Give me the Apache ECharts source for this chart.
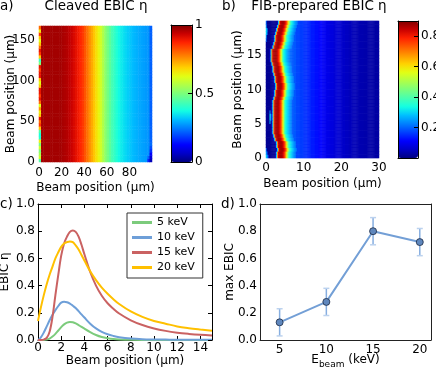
<!DOCTYPE html>
<html><head><meta charset="utf-8">
<script src="https://cdn.jsdelivr.net/npm/echarts@6/dist/echarts.min.js"></script>
<style>html,body{margin:0;padding:0;background:#fff}#c{width:436px;height:370px}</style>
</head><body><div id="c"></div>
<script>
const FONT = 'DejaVu Sans';

// ---------- Panel a: cleaved EBIC map (x: 0..100 µm in 2 µm columns, y: 0..167 µm in 42 rows)
const aColumns = 50;
const aRows = 42;
const aXMax = 100, aYMax = 167;
const aProfile = [0.97,0.97,0.97,0.97,0.97,0.97,0.97,0.97,0.97,0.97,
  0.965,0.96,0.955,0.945,0.935,0.92,0.905,0.89,0.87,0.85,
  0.82,0.79,0.76,0.73,0.70,0.67,0.64,0.60,0.56,0.52,
  0.49,0.46,0.43,0.41,0.39,0.37,0.355,0.345,0.335,0.325,
  0.318,0.31,0.303,0.297,0.29,0.285,0.28,0.275,0.27,0.22];
const aLeftEdge = [0.45,0.6,0.55,0.5,0.6,0.5,0.65,0.4,0.38,0.45,0.7,0.85,0.8,0.9,0.7,0.65,0.75,0.62,0.8,0.9,0.85,
  0.9,0.9,0.7,0.62,0.7,0.9,0.9,0.85,0.9,0.5,0.42,0.7,0.85,0.9,0.8,0.7,0.62,0.7,0.85,0.65,0.8];
const aCorner = [[99,2,0.05],[99,6,0.08],[99,10,0.12],[99,14,0.17],[99,18,0.2],[99,22,0.23],[97,2,0.16],[97,6,0.22]];

// ---------- Panel b: FIB-prepared EBIC map (x: 0..30 µm in 0.25 µm columns, y: 0..20 µm in 0.5 µm rows)
const bColumns = 120, bRows = 40, bXStep = 0.25, bYStep = 0.5;
const bXMax = 30, bYMax = 20;
const bRidgeCenter = [3.9,4.0,4.1,4.0,3.8,3.5,3.2,3.0,2.9,2.8,2.8,2.8,2.9,2.9,3.0,2.9,2.9,3.1,3.3,3.5,
  3.6,3.6,3.5,3.3,3.1,2.9,2.8,2.6,2.4,2.3,2.3,2.5,2.8,3.1,3.3,3.5,3.7,3.9,4.2,4.4];
// cross-section of the ridge, offsets -1.5 .. +4.0 µm from ridge centre in 0.25 µm steps
const bCross = [0.015,0.06,0.3,0.7,0.84,0.86,0.87,0.87,0.86,0.83,0.79,0.73,0.64,0.55,0.45,0.37,0.33,0.31,0.29,0.27,0.25,0.235,0.22];
const bLeftLevel = 0.015;
// far field by integer x position (µm)
const bTail = [0.2,0.2,0.2,0.2,0.2,0.2,0.2,0.19,0.175,0.165,0.155,0.145,0.135,0.125,0.115,0.1,0.09,0.08,0.072,0.065,
  0.058,0.052,0.047,0.043,0.04,0.037,0.034,0.032,0.03,0.028];
const bSpots = [[1.0,5.25,0.28],[1.0,5.75,0.33],[1.0,6.25,0.33],[1.0,6.75,0.25],[1.25,5.75,0.2],[1.25,6.25,0.22],
  [0.125,0.25,0.3],[0.375,0.25,0.25],[0.625,0.25,0.18],[0.125,0.75,0.25],[0.375,0.75,0.18],[0.125,1.25,0.2],
  [0.125,17.25,0.2],[0.125,17.75,0.25],[0.125,18.25,0.3],[0.375,18.25,0.22],[0.125,18.75,0.3],[0.375,18.75,0.25],
  [0.125,19.25,0.25],[0.125,19.75,0.2]];

// ---------- Panel c: EBIC line profiles
const cX = [0,0.25,0.5,0.75,1,1.25,1.5,1.75,2,2.25,2.5,2.75,3,3.25,3.5,3.75,4,4.5,5,5.5,6,6.5,7,8,9,10,11,12,13,14,15];
const c5keV  = [0,0,0,0.003,0.01,0.025,0.045,0.07,0.095,0.115,0.128,0.133,0.13,0.122,0.11,0.097,0.083,0.058,0.037,0.022,0.013,0.007,0.004,0.001,0,0,0,0,0,0,0];
const c10keV = [0,0.02,0.055,0.10,0.145,0.185,0.22,0.25,0.275,0.282,0.278,0.268,0.252,0.235,0.212,0.188,0.165,0.12,0.085,0.06,0.042,0.03,0.021,0.011,0.006,0.004,0.003,0.002,0.002,0.001,0.001];
const c15keV = [0,0,0.003,0.015,0.06,0.17,0.33,0.48,0.62,0.71,0.76,0.795,0.805,0.795,0.76,0.70,0.63,0.50,0.40,0.325,0.27,0.23,0.195,0.145,0.11,0.085,0.067,0.054,0.045,0.038,0.033];
const c20keV = [0.14,0.24,0.33,0.41,0.48,0.54,0.60,0.645,0.685,0.71,0.72,0.725,0.72,0.695,0.665,0.625,0.585,0.505,0.44,0.385,0.34,0.30,0.265,0.21,0.17,0.14,0.12,0.10,0.087,0.077,0.068];
const cNames = ['5 keV','10 keV','15 keV','20 keV'];
const cColors = ['#7ccb7c','#6e9fd8','#ca6262','#ffc000'];

// ---------- Panel d: max EBIC vs beam energy
const dEnergy = [5,10,15,20];
const dMax = [0.13,0.28,0.80,0.72];
const dErr = [0.1,0.1,0.1,0.1];

// ---------- tick labels
const aXTicks = 20, aYTicks = 50, bXTicks = 10, bYTicks = 5;
const dXTicks = [5,10,15,20];

const jet = ['#000080','#0000c8','#0000ff','#0040ff','#0080ff','#00c0ff','#14ffe2','#48ffaf','#7bff7b','#afff48','#e2ff14','#ffd200','#ff9700','#ff5c00','#ff2100','#c80000','#800000'];

// build heatmap tables
const dataA = [];
const aRowH = aYMax / aRows, aColW = aXMax / aColumns;
const aOverride = {};
aCorner.forEach(p => { aOverride[Math.floor(p[0]/aColW) + '_' + Math.floor(p[1]/aRowH)] = p[2]; });
for (let i = 0; i < aRows; i++) {
  for (let j = 0; j < aColumns; j++) {
    let v = j === 0 ? aLeftEdge[i] : aProfile[j];
    const k = j + '_' + i;
    if (k in aOverride) v = aOverride[k];
    dataA.push([j, i, v]);
  }
}
const dataB = [];
const bOverride = {};
bSpots.forEach(p => { bOverride[Math.floor(p[0]/bXStep) + '_' + Math.floor(p[1]/bYStep)] = p[2]; });
for (let i = 0; i < bRows; i++) {
  const c = bRidgeCenter[i];
  for (let j = 0; j < bColumns; j++) {
    const xc = (j + 0.5) * bXStep;
    const k = Math.round((xc - c) / bXStep);
    let v;
    if (k < -6) v = bLeftLevel;
    else if (k <= 16) v = bCross[k + 6];
    else v = bTail[Math.floor(xc)];
    const key = j + '_' + i;
    if (key in bOverride) v = bOverride[key];
    dataB.push([j, i, v]);
  }
}

const lbl = (extra) => Object.assign({color:'#000', fontSize:12, fontFamily:FONT}, extra || {});
const nameStyle = {color:'#000', fontSize:12, fontFamily:FONT};
function frame(gridIndex, position, extra) {
  return Object.assign({type:'value', gridIndex, position, min:0, max:1, z:10,
    axisLine:{show:true, onZero:false, lineStyle:{color:'#000', width:1}},
    axisTick:{show:false}, axisLabel:{show:false}, splitLine:{show:false}}, extra || {});
}
const hiddenCat = (gridIndex, n, position) => ({type:'category', gridIndex, position, show:false,
  data: Array.from({length:n}, (_, i) => i), axisLine:{show:false}, axisTick:{show:false}, axisLabel:{show:false}});

const tickIn = {show:true, inside:true, length:4, lineStyle:{color:'#000'}};

const option = {
  animation: false,
  textStyle: {fontFamily: FONT},
  grid: [
    {left:39, top:26, width:113, height:136, outerBoundsMode:'none'},
    {left:171, top:25, width:21, height:137, outerBoundsMode:'none'},
    {left:266, top:21, width:113, height:137, outerBoundsMode:'none'},
    {left:398, top:21, width:20, height:137, outerBoundsMode:'none'},
    {left:38, top:204, width:174, height:136, outerBoundsMode:'none'},
    {left:260, top:204, width:171, height:136, outerBoundsMode:'none'}
  ],
  xAxis: [
    hiddenCat(0, aColumns, 'top'),
    {type:'value', gridIndex:0, position:'bottom', min:0, max:aXMax, interval:aXTicks,
      axisLine:{show:false, onZero:false}, axisTick:{show:false}, splitLine:{show:false},
      axisLabel: lbl({margin:5, showMaxLabel:false}), nameMoveOverlap:false,
      name:'Beam position (µm)', nameLocation:'middle', nameGap:20, nameTextStyle:nameStyle},
    frame(1, 'bottom'), frame(1, 'top'),
    hiddenCat(2, bColumns, 'top'),
    {type:'value', gridIndex:2, position:'bottom', min:0, max:bXMax, interval:bXTicks,
      axisLine:{show:false, onZero:false}, axisTick:{show:false}, splitLine:{show:false},
      axisLabel: lbl({margin:4}), nameMoveOverlap:false,
      name:'Beam position (µm)', nameLocation:'middle', nameGap:20, nameTextStyle:nameStyle},
    frame(3, 'bottom'), frame(3, 'top'),
    {type:'value', gridIndex:4, position:'bottom', min:0, max:15, interval:2,
      axisLine:{show:true, onZero:false, lineStyle:{color:'#000'}}, axisTick:tickIn, splitLine:{show:false},
      axisLabel: lbl({margin:2, showMaxLabel:false}), nameMoveOverlap:false,
      name:'Beam position (µm)', nameLocation:'middle', nameGap:15, nameTextStyle:nameStyle},
    frame(4, 'top', {min:0, max:15, interval:2, axisTick:tickIn}),
    {type:'value', gridIndex:5, position:'bottom', min:2.9, max:21.2,
      axisLine:{show:true, onZero:false, lineStyle:{color:'#222'}}, axisTick:{show:false}, splitLine:{show:false},
      axisLabel: lbl({margin:4, customValues:dXTicks}), nameMoveOverlap:false,
      name:'{m|E}{s|beam}{m| (keV)}', nameLocation:'middle', nameGap:10,
      nameTextStyle:{color:'#000', fontFamily:FONT, rich:{
        m:{fontSize:12, lineHeight:19, fontFamily:FONT, color:'#000'},
        s:{fontSize:9, lineHeight:9, verticalAlign:'bottom', fontFamily:FONT, color:'#000'}}}},
    frame(5, 'top', {min:2.9, max:21.2, axisLine:{show:true, onZero:false, lineStyle:{color:'#222'}}})
  ],
  yAxis: [
    hiddenCat(0, aRows, 'right'),
    {type:'value', gridIndex:0, position:'left', min:0, max:aYMax, interval:aYTicks,
      axisLine:{show:false, onZero:false}, axisTick:{show:false}, splitLine:{show:false},
      axisLabel: lbl({margin:4, showMaxLabel:false}), nameMoveOverlap:false,
      name:'Beam position (µm)', nameLocation:'middle', nameGap:22, nameTextStyle:nameStyle},
    frame(1, 'left'),
    frame(1, 'right', {interval:0.5, axisTick:tickIn, axisLabel:lbl({show:true, margin:3})}),
    hiddenCat(2, bRows, 'right'),
    {type:'value', gridIndex:2, position:'left', min:0, max:bYMax, interval:bYTicks,
      axisLine:{show:false, onZero:false}, axisTick:{show:false}, splitLine:{show:false},
      axisLabel: lbl({margin:4, showMaxLabel:false}), nameMoveOverlap:false,
      name:'Beam position (µm)', nameLocation:'middle', nameGap:22, nameTextStyle:nameStyle},
    frame(3, 'left', {max:0.9}),
    frame(3, 'right', {max:0.9, interval:0.2, axisTick:tickIn,
      axisLabel:lbl({show:true, margin:3, showMinLabel:false, showMaxLabel:false, formatter: v => v.toFixed(1)})}),
    {type:'value', gridIndex:4, position:'left', min:0, max:1, interval:0.2,
      axisLine:{show:true, onZero:false, lineStyle:{color:'#000'}}, axisTick:tickIn, splitLine:{show:false},
      axisLabel: lbl({margin:3, formatter: v => v.toFixed(1)}), nameMoveOverlap:false,
      name:'EBIC η', nameLocation:'middle', nameGap:27, nameTextStyle:nameStyle},
    frame(4, 'right', {interval:0.2, axisTick:tickIn}),
    {type:'value', gridIndex:5, position:'left', min:0, max:1, interval:0.2,
      axisLine:{show:true, onZero:false, lineStyle:{color:'#222'}}, axisTick:{show:false}, splitLine:{show:false},
      axisLabel: lbl({margin:3, formatter: v => v.toFixed(1)}), nameMoveOverlap:false,
      name:'max EBIC', nameLocation:'middle', nameGap:24, nameTextStyle:nameStyle},
    frame(5, 'right', {axisLine:{show:true, onZero:false, lineStyle:{color:'#222'}}})
  ],
  visualMap: [
    {type:'continuous', seriesIndex:0, min:0, max:1, left:171, top:25, itemWidth:21, itemHeight:137,
      padding:0, calculable:false, hoverLink:false, inRange:{color:jet}, textStyle:{fontSize:0}},
    {type:'continuous', seriesIndex:1, min:0, max:0.9, left:398, top:21, itemWidth:20, itemHeight:137,
      padding:0, calculable:false, hoverLink:false, inRange:{color:jet}, textStyle:{fontSize:0}}
  ],
  legend: {
    data: cNames.map(n => ({name:n, icon:'rect'})),
    orient:'vertical', left:127, top:213, itemWidth:20, itemHeight:3, itemGap:2,
    padding:[3,8,4,5], borderColor:'#333', borderWidth:1, backgroundColor:'#fff',
    textStyle:{fontSize:11, lineHeight:13, color:'#000', fontFamily:FONT}, selectedMode:false
  },
  graphic: [
    {type:'text', x:0, y:6, style:{text:'a)', fontSize:13.5, fontFamily:FONT, fill:'#000', textAlign:'left', textVerticalAlign:'middle'}},
    {type:'text', x:96, y:6, style:{text:'Cleaved EBIC η', fontSize:13.5, fontFamily:FONT, fill:'#000', textAlign:'center', textVerticalAlign:'middle'}},
    {type:'text', x:222, y:6, style:{text:'b)', fontSize:13.5, fontFamily:FONT, fill:'#000', textAlign:'left', textVerticalAlign:'middle'}},
    {type:'text', x:319, y:6, style:{text:'FIB-prepared EBIC η', fontSize:13.5, fontFamily:FONT, fill:'#000', textAlign:'center', textVerticalAlign:'middle'}},
    {type:'text', x:0, y:204, style:{text:'c)', fontSize:13.5, fontFamily:FONT, fill:'#000', textAlign:'left', textVerticalAlign:'middle'}},
    {type:'text', x:221, y:204, style:{text:'d)', fontSize:13.5, fontFamily:FONT, fill:'#000', textAlign:'left', textVerticalAlign:'middle'}}
  ],
  series: [
    {type:'heatmap', xAxisIndex:0, yAxisIndex:0, data:dataA, progressive:0, emphasis:{disabled:true}},
    {type:'heatmap', xAxisIndex:4, yAxisIndex:4, data:dataB, progressive:0, emphasis:{disabled:true}},
    ...[c5keV, c10keV, c15keV, c20keV].map((ys, i) => ({
      type:'line', name:cNames[i], xAxisIndex:8, yAxisIndex:8, symbol:'none', smooth:0.35,
      data: cX.map((x, k) => [x, ys[k]]), lineStyle:{color:cColors[i], width:2}, itemStyle:{color:cColors[i]}
    })),
    {type:'custom', xAxisIndex:10, yAxisIndex:10, z:2,
      data: dEnergy.map((e, i) => [e, dMax[i], dErr[i]]),
      renderItem: (params, api) => {
        const x = api.value(0), y = api.value(1), e = api.value(2);
        const t = api.coord([x, y + e]), b = api.coord([x, y - e]);
        const w = 3;
        return {type:'group', children:[
          {type:'line', shape:{x1:t[0], y1:t[1], x2:b[0], y2:b[1]}, style:{stroke:'#86aee0', lineWidth:1.5}},
          {type:'line', shape:{x1:t[0]-w, y1:t[1], x2:t[0]+w, y2:t[1]}, style:{stroke:'#bcd2ee', lineWidth:1.5}},
          {type:'line', shape:{x1:b[0]-w, y1:b[1], x2:b[0]+w, y2:b[1]}, style:{stroke:'#bcd2ee', lineWidth:1.5}}
        ]};
      }},
    {type:'line', xAxisIndex:10, yAxisIndex:10, z:3, data: dEnergy.map((e, i) => [e, dMax[i]]),
      symbol:'circle', symbolSize:7, lineStyle:{color:'#739fd6', width:2},
      itemStyle:{color:'#5f87bd', borderColor:'#1c2a44', borderWidth:0.8}}
  ]
};
const chart = echarts.init(document.getElementById('c'), null, {renderer:'canvas'});
chart.setOption(option);
</script></body></html>
